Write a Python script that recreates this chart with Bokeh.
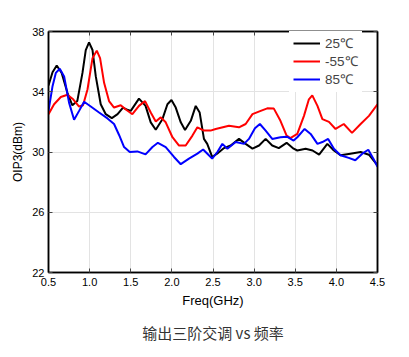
from bokeh.plotting import figure
from bokeh.models import (LinearAxis, Title, Range1d, FixedTicker, Legend, LegendItem,
                          CustomJSTickFormatter)
from bokeh.embed import file_html
from bokeh.resources import INLINE

# ---- data ----
f_25 = [0.5, 0.549, 0.6, 0.66, 0.73, 0.79, 0.85, 0.913, 0.953, 0.993, 1.035, 1.075, 1.135, 1.196, 1.27,
        1.34, 1.406, 1.46, 1.50, 1.60, 1.68, 1.743, 1.804, 1.885, 1.946, 1.995, 2.047, 2.108, 2.16,
        2.23, 2.29, 2.338, 2.39, 2.43, 2.49, 2.55, 2.634, 2.715, 2.816, 2.897, 2.98, 3.06, 3.14, 3.22,
        3.30, 3.395, 3.48, 3.525, 3.626, 3.71, 3.79, 3.89, 3.97, 4.05, 4.17, 4.295, 4.396, 4.5]
oip3_25 = [34.41, 35.30, 35.74, 35.25, 33.93, 33.10, 33.38, 35.25, 36.77, 37.28, 36.77, 35.02, 33.17, 32.51, 32.25,
           32.51, 32.95, 32.80, 32.73, 33.54, 33.06, 31.97, 31.48, 32.18, 33.17, 33.45, 32.95, 31.97, 31.46,
           32.07, 33.06, 32.62, 30.87, 30.54, 29.67, 29.89, 30.26, 30.43, 30.87, 30.54, 30.22, 30.43, 30.87, 30.43,
           30.26, 30.61, 30.22, 30.10, 30.22, 30.10, 29.82, 30.54, 30.10, 29.78, 29.89, 30.00, 29.82, 29.12]

f_m55 = [0.5, 0.568, 0.65, 0.73, 0.80, 0.872, 0.92, 0.974, 1.035, 1.087, 1.127, 1.176, 1.236, 1.297, 1.378,
         1.44, 1.52, 1.60, 1.674, 1.743, 1.804, 1.865, 1.925, 2.007, 2.087, 2.168, 2.25, 2.31, 2.39,
         2.47, 2.533, 2.694, 2.816, 2.897, 2.98, 3.08, 3.16, 3.24, 3.32, 3.395, 3.44, 3.525, 3.606,
         3.666, 3.707, 3.77, 3.83, 3.91, 3.99, 4.09, 4.19, 4.295, 4.396, 4.5]
oip3_m55 = [32.51, 33.17, 33.65, 33.80, 33.50, 33.02, 33.10, 34.15, 36.23, 36.73, 36.23, 34.59, 33.38, 32.95, 33.10,
            32.82, 32.51, 33.06, 33.38, 32.62, 32.03, 32.30, 31.97, 30.98, 30.43, 30.43, 31.09, 31.64, 31.42,
            31.42, 31.53, 31.74, 31.64, 31.86, 32.51, 32.73, 32.90, 32.88, 32.07, 31.09, 30.92, 31.20, 32.40,
            33.50, 33.76, 33.06, 32.18, 32.00, 31.53, 31.86, 31.27, 31.86, 32.40, 33.17]

f_85 = [0.5, 0.549, 0.589, 0.637, 0.69, 0.75, 0.811, 0.872, 0.933, 1.014, 1.115, 1.217, 1.297, 1.358, 1.419,
        1.488, 1.58, 1.68, 1.764, 1.83, 1.925, 2.026, 2.108, 2.208, 2.31, 2.38, 2.45, 2.49, 2.553,
        2.614, 2.675, 2.776, 2.877, 2.937, 3.01, 3.07, 3.14, 3.22, 3.32, 3.40, 3.48, 3.525, 3.614,
        3.687, 3.77, 3.83, 3.90, 3.97, 4.05, 4.15, 4.23, 4.315, 4.388, 4.45, 4.5]
oip3_85 = [32.73, 34.37, 35.25, 35.53, 35.02, 33.28, 32.14, 32.73, 33.34, 33.02, 32.62, 32.23, 31.86, 31.13, 30.33,
           30.00, 30.04, 29.84, 30.33, 30.61, 30.33, 29.67, 29.19, 29.56, 29.89, 30.17, 29.78, 29.56, 30.00,
           30.54, 30.22, 30.66, 30.54, 30.87, 31.57, 31.86, 31.42, 30.87, 30.98, 31.02, 30.76, 30.98, 31.53,
           31.20, 30.54, 30.66, 30.87, 30.22, 29.78, 29.61, 29.45, 29.89, 30.15, 29.56, 29.02]

x_ticks = [0.5, 1.0, 1.5, 2.0, 2.5, 3.0, 3.5, 4.0, 4.5]
y_ticks = [22, 26, 30, 34, 38]
series_labels = ["25℃", "-55℃", "85℃"]

FONT = "Liberation Sans"

p = figure(width=393, height=352, output_backend="svg", toolbar_location=None,
           x_range=Range1d(0.5, 4.5), y_range=Range1d(22, 38),
           min_border_left=48, min_border_right=16, min_border_top=31, min_border_bottom=2)
p.outline_line_color = "black"
p.outline_line_width = 1.5

p.xaxis.ticker = FixedTicker(ticks=x_ticks)
p.yaxis.ticker = FixedTicker(ticks=y_ticks)
p.xaxis.formatter = CustomJSTickFormatter(code="return tick.toFixed(1);")

for ax in [p.xaxis[0], p.yaxis[0]]:
    ax.major_tick_in = 4
    ax.major_tick_out = 0
    ax.minor_tick_in = 0
    ax.minor_tick_out = 0
    ax.axis_line_color = "black"
    ax.axis_line_width = 1.5
    ax.major_tick_line_color = "#444444"
    ax.major_label_text_font = FONT
    ax.major_label_text_font_size = "11px"
    ax.major_label_text_color = "black"
    ax.axis_label_text_font = FONT
    ax.axis_label_text_font_style = "normal"
    ax.axis_label_text_color = "black"

p.xaxis.axis_label = "Freq(GHz)"
p.xaxis.axis_label_text_font_size = "13px"
p.xaxis.major_label_standoff = 5
p.xaxis.axis_label_standoff = 4
p.yaxis.axis_label = "OIP3(dBm)"
p.yaxis.axis_label_text_font_size = "12px"
p.yaxis.major_label_standoff = 4
p.yaxis.axis_label_standoff = 4

blank = CustomJSTickFormatter(code="return '';")
top = LinearAxis(ticker=FixedTicker(ticks=x_ticks), formatter=blank, major_tick_in=4, major_tick_out=0,
                 minor_tick_in=0, minor_tick_out=0, major_label_standoff=0,
                 axis_line_color="black", axis_line_width=1.5, major_tick_line_color="#444444")
right = LinearAxis(ticker=FixedTicker(ticks=y_ticks), formatter=blank, major_tick_in=4, major_tick_out=0,
                   minor_tick_in=0, minor_tick_out=0, major_label_standoff=0,
                   axis_line_color="black", axis_line_width=1.5, major_tick_line_color="#444444")
p.add_layout(top, "above")
p.add_layout(right, "right")

p.xgrid.ticker = FixedTicker(ticks=x_ticks)
p.ygrid.ticker = FixedTicker(ticks=y_ticks)
p.grid.grid_line_color = "#e3e3e3"
p.grid.grid_line_width = 1

r1 = p.line(f_25, oip3_25, line_color="black", line_width=2)
r2 = p.line(f_m55, oip3_m55, line_color="#ff0000", line_width=2)
r3 = p.line(f_85, oip3_85, line_color="#0000ff", line_width=2)

legend = Legend(items=[LegendItem(label=series_labels[0], renderers=[r1]),
                       LegendItem(label=series_labels[1], renderers=[r2]),
                       LegendItem(label=series_labels[2], renderers=[r3])],
                location=(241, 180), border_line_alpha=0, background_fill_color="white",
                background_fill_alpha=1.0, label_text_font=FONT, label_text_font_size="13.5px",
                label_text_line_height=1.0,
                glyph_width=27, label_standoff=5, spacing=0, label_height=16, glyph_height=16,
                margin=0, padding=4)
p.add_layout(legend)

t = Title(text="输出三阶交调 vs 频率", align="center", text_font="Noto Sans CJK SC",
          text_font_size="15px", text_font_style="normal", text_color="#333333", standoff=19)
p.add_layout(t, "below")

open("out.html", "w").write(file_html(p, INLINE))
